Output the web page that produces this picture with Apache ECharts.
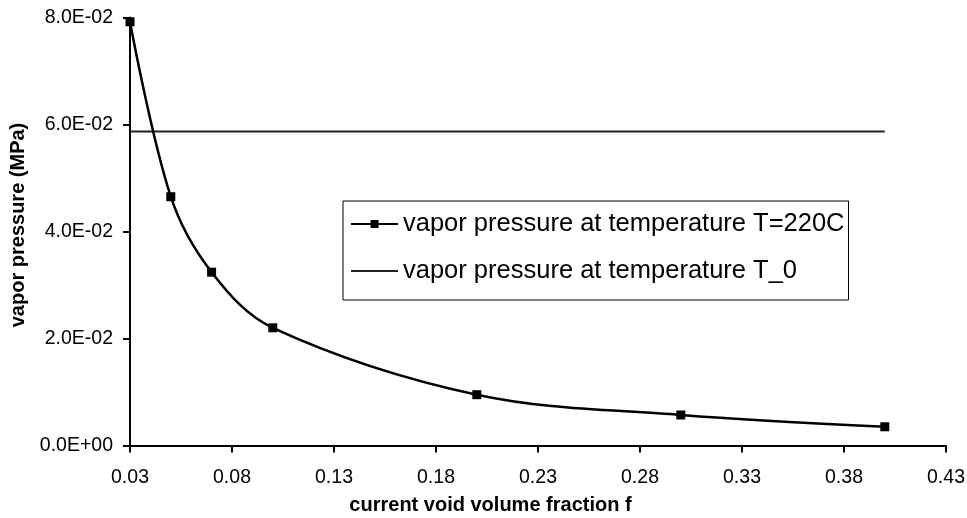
<!DOCTYPE html>
<html>
<head>
<meta charset="utf-8">
<script src="https://cdn.jsdelivr.net/npm/echarts@6/dist/echarts.min.js"></script>
<style>
html,body{margin:0;padding:0;background:#fff;}
#chart{width:967px;height:518px;}
</style>
</head>
<body>
<div id="chart"></div>
<script>
// Data
const voidFraction = [0.03, 0.05, 0.07, 0.10, 0.20, 0.30, 0.40];
const vaporPressure220C = [0.0792, 0.0465, 0.0324, 0.0220, 0.0095, 0.0057, 0.0035];
const refLineX = [0.03, 0.40];
const refLineY = [0.0587, 0.0587];
const xTickValues = [0.03, 0.08, 0.13, 0.18, 0.23, 0.28, 0.33, 0.38, 0.43];
const seriesNames = ['vapor pressure at temperature T=220C', 'vapor pressure at temperature T_0'];
const xTitle = 'current void volume fraction f';
const yTitle = 'vapor pressure (MPa)';

const FONT = '"Liberation Sans", Arial, sans-serif';

function expFmt(v) {
  if (v === 0) return '0.0E+00';
  const s = v.toExponential(1);
  const parts = s.split('e');
  let exp = parseInt(parts[1], 10);
  const sign = exp < 0 ? '-' : '+';
  exp = Math.abs(exp);
  return parts[0] + 'E' + sign + (exp < 10 ? '0' : '') + exp;
}

const chart = echarts.init(document.getElementById('chart'));
chart.setOption({
  animation: false,
  backgroundColor: '#ffffff',
  textStyle: { fontFamily: FONT },
  grid: { left: 130, right: 21, top: 17.5, bottom: 72.5, containLabel: false, outerBoundsMode: 'none' },
  legend: {
    orient: 'vertical',
    left: 343,
    top: 201,
    padding: [8, 4, 14, 7],
    itemGap: 17,
    itemWidth: 47,
    itemHeight: 10,
    borderColor: '#000',
    borderWidth: 1,
    backgroundColor: '#fff',
    textStyle: { fontFamily: FONT, fontSize: 25.5, color: '#000', lineHeight: 30 },
    data: [
      { name: seriesNames[0] },
      { name: seriesNames[1], itemStyle: { color: 'rgba(0,0,0,0)', borderWidth: 0 } }
    ]
  },
  xAxis: {
    type: 'value',
    min: 0.03,
    max: 0.43,
    interval: 0.01,
    name: xTitle,
    nameLocation: 'middle',
    nameGap: 50,
    nameTextStyle: { fontFamily: FONT, fontSize: 20, fontWeight: 'bold', color: '#000', padding: [0, 95, 0, 0] },
    axisLine: { show: true, onZero: false, lineStyle: { color: '#000', width: 2 } },
    axisTick: { show: true, length: 7, inside: false, customValues: xTickValues, lineStyle: { color: '#000', width: 2 } },
    axisLabel: {
      customValues: xTickValues,
      margin: 22,
      fontFamily: FONT, fontSize: 19.5, color: '#000',
      formatter: v => v.toFixed(2)
    },
    splitLine: { show: false }
  },
  yAxis: {
    type: 'value',
    min: 0,
    max: 0.08,
    interval: 0.02,
    name: yTitle,
    nameLocation: 'middle',
    nameGap: 92,
    nameRotate: 90,
    nameTextStyle: { fontFamily: FONT, fontSize: 20, fontWeight: 'bold', color: '#000', padding: [0, 0, 0, 13] },
    axisLine: { show: true, lineStyle: { color: '#000', width: 2 } },
    axisTick: { show: true, length: 7, lineStyle: { color: '#000', width: 2 } },
    axisLabel: { margin: 17, fontFamily: FONT, fontSize: 19.5, color: '#000', formatter: expFmt },
    splitLine: { show: false }
  },
  series: [
    {
      name: seriesNames[0],
      type: 'line',
      smooth: 0.35,
      symbol: 'rect',
      symbolSize: 9,
      data: voidFraction.map((x, i) => [x, vaporPressure220C[i]]),
      lineStyle: { color: '#000', width: 2.5 },
      itemStyle: { color: '#000' },
      z: 3
    },
    {
      name: seriesNames[1],
      type: 'line',
      symbol: 'none',
      data: refLineX.map((x, i) => [x, refLineY[i]]),
      lineStyle: { color: '#222', width: 2 },
      itemStyle: { color: '#222' },
      z: 2
    }
  ]
});
</script>
</body>
</html>
